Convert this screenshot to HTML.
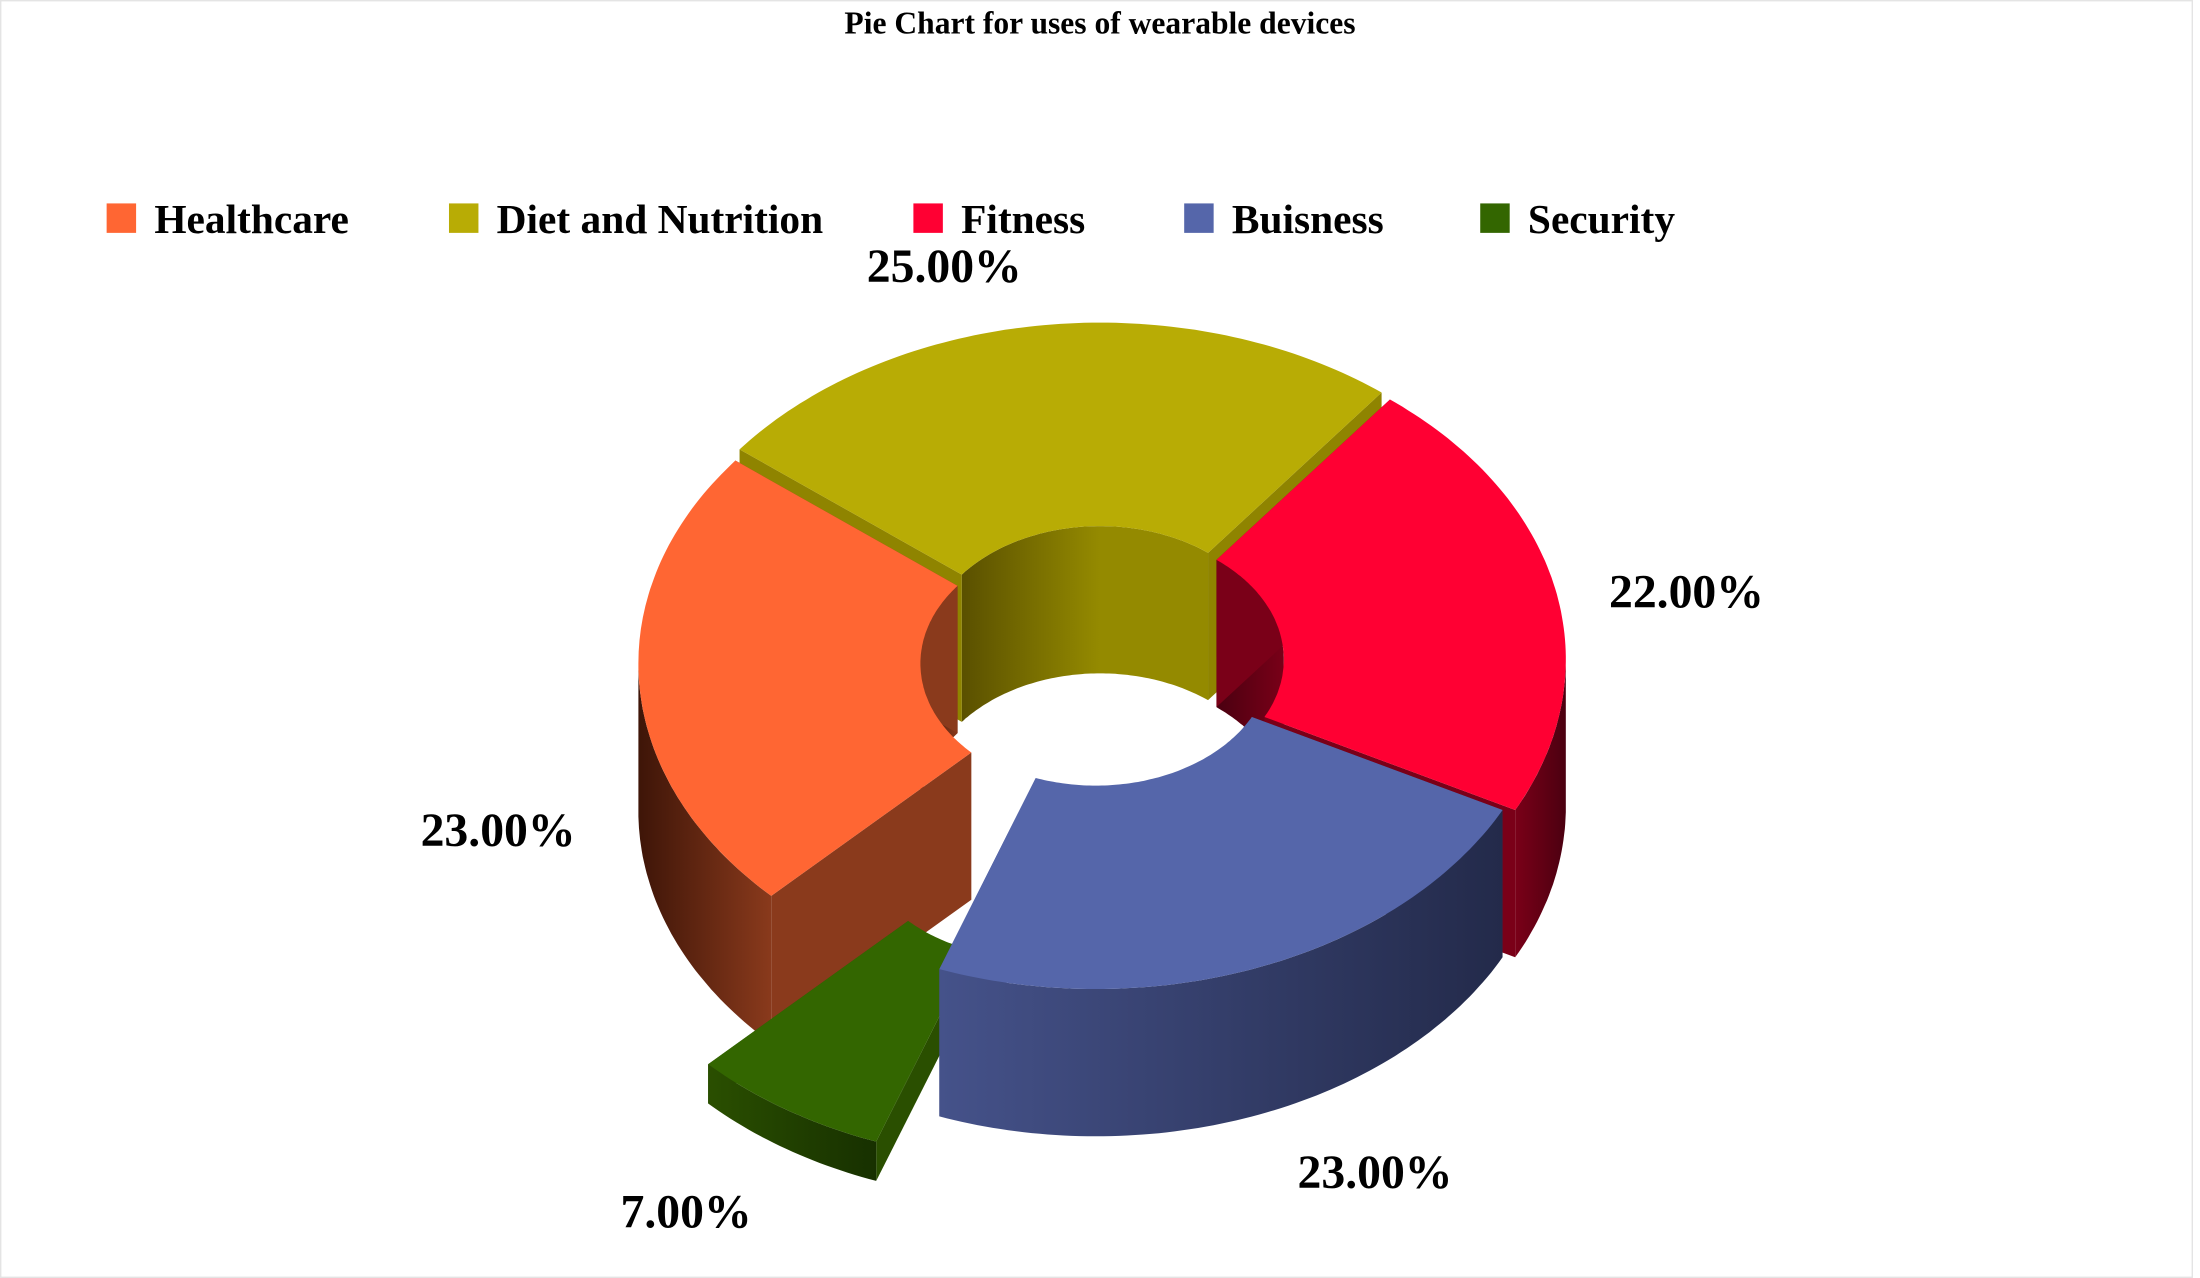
<!DOCTYPE html>
<html><head><meta charset="utf-8"><style>
html,body{margin:0;padding:0;background:#fff;}
svg{display:block;}
</style></head><body>
<svg id="chart" width="2200" height="1278" viewBox="0 0 1568 911" preserveAspectRatio="none" xmlns="http://www.w3.org/2000/svg" font-family="'Liberation Serif', serif">
<rect x="0.5" y="0.5" width="1562" height="910" fill="#fff" stroke="#e4e4e4"/>
<defs id="defs"></defs>
<text x="784" y="24" text-anchor="middle" font-size="22.5" font-weight="bold" fill="#000">Pie Chart for uses of wearable devices</text>
<g id="legend"></g>
<g id="pie"></g>
<g id="labels"></g>
</svg>
<script>
const categories = ["Healthcare", "Diet and Nutrition", "Fitness", "Buisness", "Security"];
const values = [23, 25, 22, 23, 7];
const colors = ["#FF6633", "#B8AC05", "#FF0033", "#5566AA", "#336600"];
const wallLight = ["#8a3a1c", "#8f8400", "#7a0018", "#45528a", "#2a4f00"];
const wallDark = ["#3e1508", "#4e4800", "#4a0010", "#232a4a", "#173000"];
const labelText = ["23.00%", "25.00%", "22.00%", "23.00%", "7.00%"];

const NS = "http://www.w3.org/2000/svg";
const cx = 790, cy = 470, rx = 326, ry = 235, irx = 125, iry = 90;
const depths = [105, 105, 105, 105, 28];
const offsets = [[-9,3],[-6,-5],[0,0],[-9,0],[-54,123]];
const labelPos = [[355,603],[673,201],[1202,433],[980,847],[489,875]];
const legendX = [76, 320, 651, 844, 1055];

const defs = document.getElementById('defs');
const legend = document.getElementById('legend');
categories.forEach((c,i)=>{
  const g = document.createElementNS(NS,'g');
  
  
  const r = document.createElementNS(NS,'rect');
  r.setAttribute('x', legendX[i]); r.setAttribute('y', 145);
  r.setAttribute('width', 21); r.setAttribute('height', 21);
  r.setAttribute('fill', colors[i]);
  const t = document.createElementNS(NS,'text');
  t.setAttribute('x', legendX[i]+34); t.setAttribute('y', 166);
  t.setAttribute('font-size', 29.5); t.setAttribute('font-weight','bold');
  t.textContent = c;
  g.appendChild(r); g.appendChild(t); legend.appendChild(g);
});

const total = values.reduce((a,b)=>a+b,0);
const start = 135.2;
let acc = start;
const slices = values.map((v,i)=>{ const a0=acc; acc += v/total*360; return {i, a0, a1: acc}; });

function P(t, outer, dz, o){
  const r = t*Math.PI/180;
  return [cx+o[0]+(outer?rx:irx)*Math.cos(r), cy+o[1]+(outer?ry:iry)*Math.sin(r)+dz];
}
function arc(a, b, outer, dz, o){
  const pts=[]; const n=Math.max(2, Math.ceil(Math.abs(b-a)));
  for(let k=0;k<=n;k++){ pts.push(P(a+(b-a)*k/n, outer, dz, o)); }
  return pts;
}
function poly(pts, fill, name){
  const p = document.createElementNS(NS,'polygon');
  p.setAttribute('points', pts.map(q=>q[0].toFixed(1)+','+q[1].toFixed(1)).join(' '));
  p.setAttribute('fill', fill);
  
  
  return p;
}
function ranges(a0, a1, front){
  const out=[];
  for(let k=-2;k<=3;k++){
    const lo = front ? k*360 : k*360-180, hi = lo+180;
    const s=Math.max(a0,lo), e=Math.min(a1,hi);
    if(e>s) out.push([s,e]);
  }
  return out;
}
function grad(id, c1, c2, x1, x2){
  const g=document.createElementNS(NS,'linearGradient');
  g.setAttribute('id',id); g.setAttribute('gradientUnits','userSpaceOnUse');
  g.setAttribute('x1',x1); g.setAttribute('x2',x2); g.setAttribute('y1',0); g.setAttribute('y2',0);
  [[0,c1],[1,c2]].forEach(s=>{const st=document.createElementNS(NS,'stop');st.setAttribute('offset',s[0]);st.setAttribute('stop-color',s[1]);g.appendChild(st);});
  defs.appendChild(g);
  return 'url(#'+id+')';
}

const pie = document.getElementById('pie');
const order = slices.slice().sort((a,b)=>Math.sin((a.a0+a.a1)/2*Math.PI/180)-Math.sin((b.a0+b.a1)/2*Math.PI/180));
order.forEach(s=>{
  const i=s.i, o=offsets[i], depth=depths[i];
  const g=document.createElementNS(NS,'g');
  
  
  ranges(s.a0, s.a1, false).forEach((r,j)=>{
    const top=arc(r[0],r[1],false,0,o), bot=arc(r[1],r[0],false,depth,o);
    const xs=top.map(p=>p[0]);
    const x1=Math.min(...xs), x2=Math.max(...xs)+1;
    const fill = i===1 ? grad('gi'+i+'_'+j, '#5a5000', '#948a00', x1, (x1+x2)/2+10) : grad('gi'+i+'_'+j, wallDark[i], wallLight[i], x1, x2);
    g.appendChild(poly(top.concat(bot), fill, 'inner-wall'));
  });
  [s.a0, s.a1].forEach(a=>{
    const p1=P(a,false,0,o), p2=P(a,true,0,o), p3=P(a,true,depth,o), p4=P(a,false,depth,o);
    g.appendChild(poly([p1,p2,p3,p4], wallLight[i], 'end-face'));
  });
  ranges(s.a0, s.a1, true).forEach((r,j)=>{
    const top=arc(r[0],r[1],true,0,o), bot=arc(r[1],r[0],true,depth,o);
    const xs=top.map(p=>p[0]);
    const x1=Math.min(...xs), x2=Math.max(...xs)+1;
    const fill=grad('go'+i+'_'+j, i===0?wallDark[i]:wallLight[i], i===0?wallLight[i]:wallDark[i], x1, x2);
    g.appendChild(poly(top.concat(bot), fill, 'outer-wall'));
  });
  const top = arc(s.a0, s.a1, true, 0, o).concat(arc(s.a1, s.a0, false, 0, o));
  g.appendChild(poly(top, colors[i], 'slice-top'));
  pie.appendChild(g);
});

const labels=document.getElementById('labels');
labelText.forEach((t,i)=>{
  const e=document.createElementNS(NS,'text');
  e.setAttribute('x', labelPos[i][0]); e.setAttribute('y', labelPos[i][1]);
  e.setAttribute('text-anchor','middle'); e.setAttribute('font-size',34); e.setAttribute('font-weight','bold');
  e.textContent=t;
  
  
  labels.appendChild(e);
});
</script>
</body></html>
